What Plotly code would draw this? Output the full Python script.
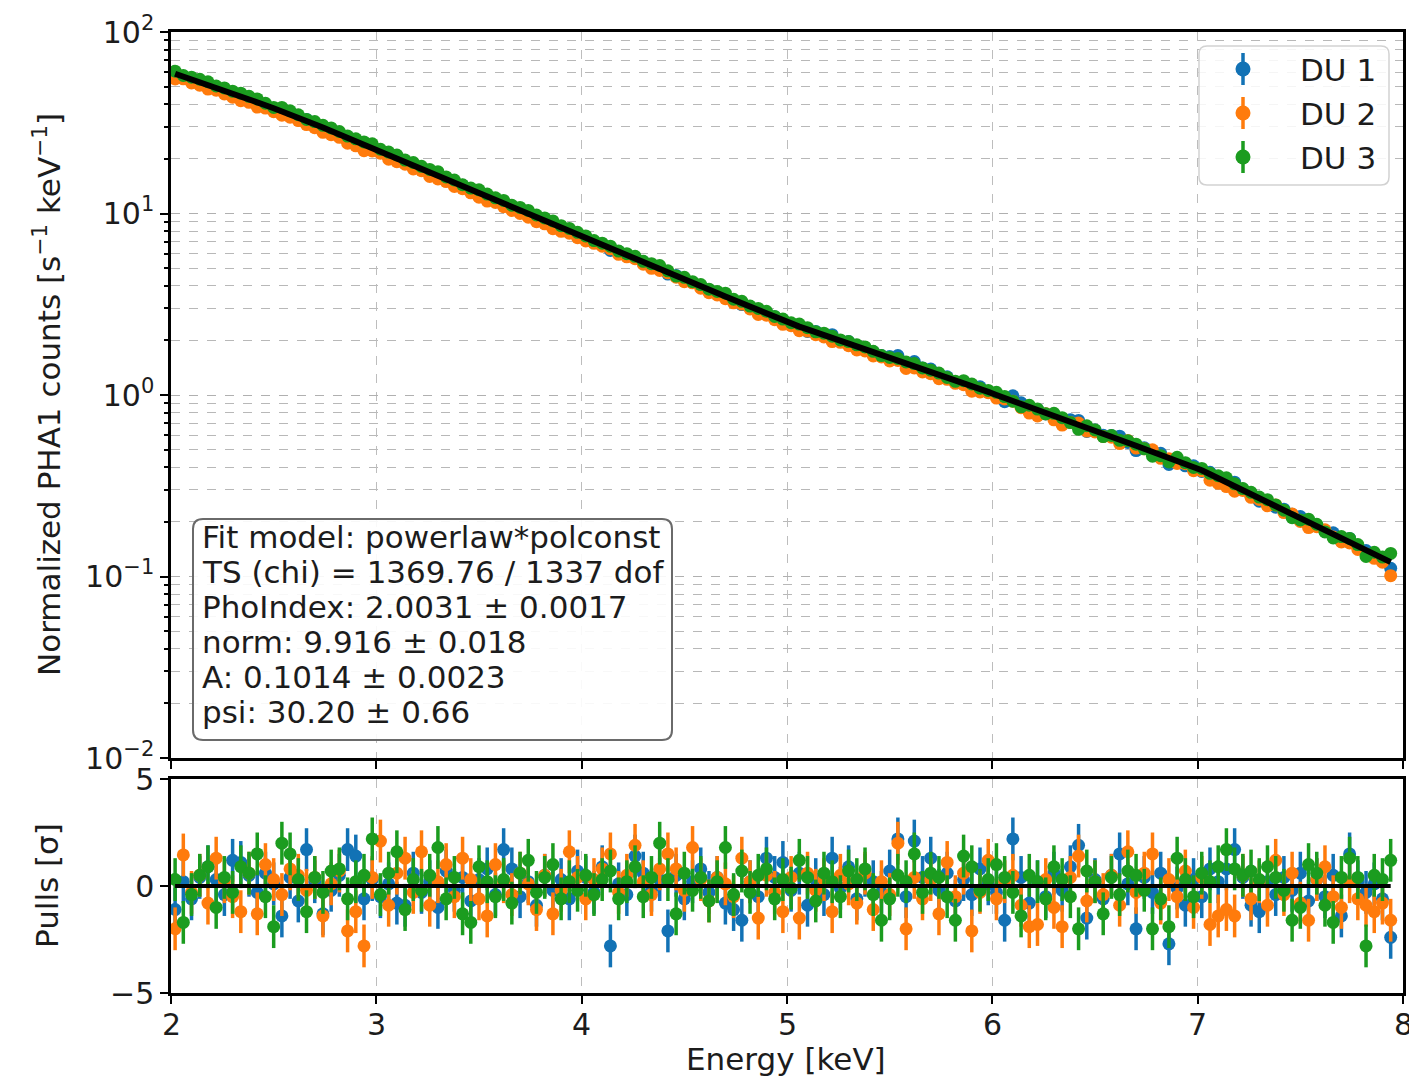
import plotly.graph_objects as go

# ---------------------------------------------------------------- data ----
# bin centres [keV]
energy = [
    2.02, 2.06, 2.10, 2.14, 2.18, 2.22, 2.26, 2.30, 2.34, 2.38,
    2.42, 2.46, 2.50, 2.54, 2.58, 2.62, 2.66, 2.70, 2.74, 2.78,
    2.82, 2.86, 2.90, 2.94, 2.98, 3.02, 3.06, 3.10, 3.14, 3.18,
    3.22, 3.26, 3.30, 3.34, 3.38, 3.42, 3.46, 3.50, 3.54, 3.58,
    3.62, 3.66, 3.70, 3.74, 3.78, 3.82, 3.86, 3.90, 3.94, 3.98,
    4.02, 4.06, 4.10, 4.14, 4.18, 4.22, 4.26, 4.30, 4.34, 4.38,
    4.42, 4.46, 4.50, 4.54, 4.58, 4.62, 4.66, 4.70, 4.74, 4.78,
    4.82, 4.86, 4.90, 4.94, 4.98, 5.02, 5.06, 5.10, 5.14, 5.18,
    5.22, 5.26, 5.30, 5.34, 5.38, 5.42, 5.46, 5.50, 5.54, 5.58,
    5.62, 5.66, 5.70, 5.74, 5.78, 5.82, 5.86, 5.90, 5.94, 5.98,
    6.02, 6.06, 6.10, 6.14, 6.18, 6.22, 6.26, 6.30, 6.34, 6.38,
    6.42, 6.46, 6.50, 6.54, 6.58, 6.62, 6.66, 6.70, 6.74, 6.78,
    6.82, 6.86, 6.90, 6.94, 6.98, 7.02, 7.06, 7.10, 7.14, 7.18,
    7.22, 7.26, 7.30, 7.34, 7.38, 7.42, 7.46, 7.50, 7.54, 7.58,
    7.62, 7.66, 7.70, 7.74, 7.78, 7.82, 7.86, 7.90, 7.94,
]

# folded best-fit model [s^-1 keV^-1]
model = [
    58.9, 56.9, 55.0, 53.0, 51.2, 49.4, 47.6, 46.0, 44.3, 42.7,
    41.0, 39.5, 38.0, 36.6, 35.2, 33.9, 32.4, 31.0, 29.8, 28.5,
    27.3, 26.1, 25.0, 24.0, 23.0, 22.0, 21.0, 20.1, 19.3, 18.5,
    17.7, 16.9, 16.2, 15.5, 14.8, 14.2, 13.6, 13.0, 12.4, 11.9,
    11.4, 10.9, 10.4, 9.98, 9.55, 9.14, 8.75, 8.37, 8.02, 7.67,
    7.35, 7.03, 6.73, 6.44, 6.17, 5.90, 5.65, 5.41, 5.18, 4.95,
    4.74, 4.54, 4.35, 4.16, 3.98, 3.81, 3.65, 3.49, 3.34, 3.20,
    3.06, 2.93, 2.81, 2.69, 2.57, 2.47, 2.38, 2.30, 2.22, 2.14,
    2.07, 1.99, 1.92, 1.85, 1.79, 1.72, 1.66, 1.60, 1.55, 1.49,
    1.44, 1.39, 1.34, 1.29, 1.24, 1.20, 1.16, 1.12, 1.08, 1.04,
    1.00, 0.964, 0.929, 0.894, 0.861, 0.828, 0.798, 0.768, 0.740, 0.712,
    0.685, 0.660, 0.635, 0.611, 0.589, 0.567, 0.546, 0.525, 0.506, 0.487,
    0.469, 0.451, 0.435, 0.418, 0.403, 0.385, 0.366, 0.348, 0.331, 0.315,
    0.299, 0.284, 0.270, 0.257, 0.244, 0.232, 0.221, 0.210, 0.200, 0.190,
    0.180, 0.171, 0.163, 0.155, 0.147, 0.140, 0.133, 0.126, 0.120,
]

du1_counts = [
    58.3, 57.0, 54.7, 53.2, 51.7, 49.5, 47.4, 46.6, 44.8, 42.9,
    40.9, 39.7, 38.0, 36.1, 35.3, 33.7, 33.0, 31.1, 29.4, 28.4,
    27.4, 26.5, 25.4, 23.9, 23.1, 21.9, 21.0, 19.9, 19.1, 18.6,
    17.6, 16.9, 16.0, 15.6, 14.8, 14.3, 13.5, 13.0, 12.5, 11.9,
    11.6, 11.0, 10.3, 10.0, 9.46, 9.19, 8.73, 8.40, 7.97, 7.72,
    7.38, 7.01, 6.79, 6.26, 6.18, 5.88, 5.73, 5.44, 5.17, 4.96,
    4.64, 4.56, 4.32, 4.17, 4.01, 3.80, 3.66, 3.46, 3.30, 3.15,
    3.07, 2.92, 2.85, 2.70, 2.60, 2.46, 2.42, 2.24, 2.24, 2.11,
    2.15, 1.98, 1.97, 1.82, 1.82, 1.73, 1.65, 1.63, 1.65, 1.47,
    1.53, 1.41, 1.39, 1.28, 1.26, 1.17, 1.17, 1.11, 1.11, 1.04,
    0.991, 0.918, 0.990, 0.905, 0.840, 0.833, 0.786, 0.782, 0.736, 0.731,
    0.724, 0.630, 0.641, 0.600, 0.598, 0.593, 0.548, 0.494, 0.512, 0.483,
    0.477, 0.414, 0.434, 0.407, 0.407, 0.379, 0.375, 0.350, 0.339, 0.331,
    0.303, 0.276, 0.260, 0.259, 0.241, 0.235, 0.220, 0.214, 0.196, 0.192,
    0.177, 0.174, 0.156, 0.162, 0.148, 0.139, 0.133, 0.124, 0.111,
]

du2_counts = [
    55.1, 55.2, 52.4, 50.9, 48.5, 47.8, 45.6, 43.7, 41.8, 41.0,
    38.6, 38.1, 36.4, 34.8, 33.9, 32.5, 30.9, 29.7, 28.0, 27.2,
    26.3, 24.4, 23.6, 22.2, 22.1, 21.5, 19.9, 19.3, 18.7, 17.6,
    17.2, 16.0, 15.5, 15.0, 14.1, 13.7, 13.0, 12.3, 11.7, 11.5,
    10.9, 10.4, 10.0, 9.54, 9.02, 8.77, 8.24, 7.98, 7.79, 7.36,
    7.06, 6.85, 6.61, 6.39, 5.96, 5.77, 5.64, 5.26, 4.99, 4.86,
    4.71, 4.46, 4.21, 4.15, 3.88, 3.66, 3.56, 3.39, 3.22, 3.17,
    2.98, 2.78, 2.75, 2.60, 2.45, 2.41, 2.26, 2.25, 2.15, 2.09,
    1.97, 1.95, 1.87, 1.77, 1.75, 1.64, 1.62, 1.54, 1.55, 1.40,
    1.41, 1.34, 1.31, 1.23, 1.22, 1.16, 1.14, 1.05, 1.04, 1.03,
    0.962, 0.951, 0.924, 0.852, 0.795, 0.767, 0.789, 0.730, 0.683, 0.706,
    0.700, 0.633, 0.626, 0.591, 0.586, 0.540, 0.561, 0.510, 0.505, 0.499,
    0.448, 0.446, 0.420, 0.418, 0.383, 0.382, 0.339, 0.326, 0.313, 0.295,
    0.298, 0.273, 0.266, 0.245, 0.248, 0.225, 0.221, 0.201, 0.186, 0.188,
    0.181, 0.165, 0.155, 0.153, 0.141, 0.133, 0.126, 0.120, 0.101,
]

du3_counts = [
    60.8, 57.6, 56.4, 54.9, 53.2, 50.4, 49.2, 47.2, 46.0, 44.2,
    42.8, 40.5, 38.4, 38.4, 36.8, 35.0, 33.0, 32.1, 30.6, 29.6,
    28.3, 26.7, 25.8, 24.8, 24.2, 22.6, 21.8, 21.0, 19.7, 19.1,
    18.2, 17.5, 17.0, 15.9, 15.3, 14.4, 13.8, 13.5, 12.8, 12.2,
    11.8, 11.1, 10.8, 10.4, 9.81, 9.45, 9.10, 8.57, 8.28, 7.88,
    7.52, 7.09, 6.86, 6.61, 6.21, 6.01, 5.81, 5.45, 5.29, 5.17,
    4.83, 4.52, 4.45, 4.21, 4.06, 3.83, 3.72, 3.64, 3.37, 3.28,
    3.09, 3.00, 2.89, 2.71, 2.62, 2.50, 2.46, 2.35, 2.23, 2.19,
    2.11, 2.01, 1.97, 1.89, 1.84, 1.74, 1.65, 1.61, 1.59, 1.52,
    1.49, 1.41, 1.37, 1.32, 1.25, 1.19, 1.20, 1.15, 1.09, 1.06,
    1.035, 0.980, 0.925, 0.861, 0.878, 0.837, 0.788, 0.793, 0.750, 0.705,
    0.647, 0.677, 0.642, 0.590, 0.599, 0.563, 0.560, 0.536, 0.505, 0.460,
    0.463, 0.428, 0.454, 0.424, 0.399, 0.394, 0.370, 0.359, 0.350, 0.324,
    0.305, 0.291, 0.274, 0.265, 0.248, 0.232, 0.211, 0.205, 0.207, 0.194,
    0.176, 0.163, 0.166, 0.162, 0.150, 0.129, 0.136, 0.128, 0.134,
]

# residuals (data - model) / sigma
du1_pulls = [
    -1.1, 0.2, -0.6, 0.4, 0.9, 0.3, -0.4, 1.2, 1.1, 0.5,
    -0.3, 0.6, 0.1, -1.4, 0.4, -0.7, 1.7, 0.2, -1.3, -0.2,
    0.5, 1.7, 1.4, -0.6, 0.3, -0.5, 0.1, -0.8, -0.9, 0.6,
    -0.3, 0.2, -1.0, 0.7, -0.2, 0.4, -0.7, 0.3, 0.8, -0.4,
    1.7, 0.8, -0.5, 0.2, -0.9, 0.5, -0.2, 0.3, -0.6, 0.7,
    0.4, -0.3, 0.9, -2.8, 0.1, -0.4, 1.4, 0.6, -0.2, 0.3,
    -2.1, 0.5, -0.6, 0.2, 0.8, -0.3, 0.4, -0.8, -1.1, -1.6,
    0.2, -0.5, 1.3, 0.4, 1.1, -0.2, 0.6, -0.9, 0.3, -0.4,
    1.3, -0.1, 0.9, -0.6, 0.5, 0.2, -0.3, 0.7, 2.2, -0.5,
    2.1, 0.4, 1.3, -0.2, 0.6, -0.7, 0.3, -0.4, 0.8, 0.1,
    -0.3, -1.6, 2.2, 0.4, -0.8, 0.2, -0.5, 0.6, -0.2, 0.9,
    1.9, -1.5, 0.3, -0.6, 0.5, 1.5, 0.1, -2.0, 0.4, -0.3,
    0.6, -2.7, -0.1, -0.9, 0.3, -0.5, 0.8, 0.2, 0.8, 1.7,
    0.4, -0.9, -1.2, 0.2, -0.4, 0.4, -0.2, 0.6, -0.7, 0.3,
    -0.5, 0.5, -1.4, 1.5, 0.2, -0.3, 0.1, -0.6, -2.4,
]

du2_pulls = [
    -2.0, 1.45, -0.3, 0.5, -0.8, 1.3, 0.2, -0.5, -1.2, 0.6,
    -1.3, 1.0, 0.3, -0.4, 0.8, 0.5, -0.2, 0.4, -1.4, 0.1,
    0.7, -2.1, -1.2, -2.8, 0.4, 2.1, -0.9, 0.6, 1.3, -0.3,
    1.6, -0.9, 0.2, 1.0, -0.5, 1.3, 0.3, -0.6, -1.4, 1.0,
    0.2, -0.4, 0.6, 0.1, -1.1, 0.5, -1.3, -0.2, 1.6, 0.4,
    -0.6, 0.3, 0.8, 1.5, -0.3, 0.5, 1.9, 0.2, -0.4, 0.8,
    1.5, 0.8, -0.2, 1.8, 0.3, -0.7, 0.4, 0.1, -0.5, 1.3,
    0.2, -1.5, 0.5, -0.3, -1.2, 0.4, -1.5, 0.6, -0.2, 0.3,
    -1.2, 0.5, 0.1, -0.8, 0.6, -1.1, 0.2, -0.4, 2.0, -2.0,
    0.4, -0.6, 0.3, -1.3, 1.1, -0.5, 0.6, -2.1, -0.3, 1.2,
    -0.6, 0.2, 0.5, -0.9, -1.9, -1.8, 0.3, -1.0, -1.9, 0.4,
    1.4, -0.7, 0.2, -0.4, 0.5, -0.9, 1.6, -0.3, 0.6, 1.5,
    -0.8, 0.3, -0.5, 0.7, -1.0, 0.4, -1.8, -1.4, -1.1, -1.4,
    0.5, -0.6, 0.2, -0.9, 1.2, -0.4, 0.6, -0.8, -1.6, 0.3,
    0.9, -0.5, -1.0, 0.2, -0.6, -0.9, -1.2, -0.8, -1.6,
]

du3_pulls = [
    0.3, -1.7, -0.4, 0.5, 0.9, -1.0, 0.4, -0.3, 0.9, 0.6,
    1.5, -0.5, -1.9, 2.0, 1.5, 0.3, -1.2, 0.4, -0.3, 0.7,
    0.8, -0.6, 0.2, 0.5, 2.2, -0.4, 0.6, 1.6, -1.1, 0.3,
    -0.2, 0.5, 1.8, -0.6, 0.4, -1.3, -1.7, 0.9, 0.2, -0.5,
    0.3, -0.8, 0.6, 1.2, -0.3, 0.4, 1.0, -0.6, 0.2, -0.2,
    0.5, -0.4, 0.3, 0.7, -0.6, 0.2, 0.9, -0.5, 0.4, 2.0,
    0.3, -1.3, 0.6, -0.2, 0.4, -0.7, 0.2, 1.8, -0.4, 0.7,
    -0.3, 0.5, 0.8, -0.6, 0.3, -0.1, 1.2, 0.4, -0.7, 0.6,
    0.2, -0.5, 0.7, 0.3, 0.8, -0.4, -1.6, -0.6, 0.5, 0.2,
    1.5, -0.3, 0.6, 0.4, -0.5, -1.6, 1.4, 0.9, -0.2, 0.3,
    1.0, 0.4, -0.3, -1.4, 0.5, 0.2, -0.6, 0.9, 0.3, -0.5,
    -2.0, 0.7, 0.2, -1.3, 0.4, -0.4, 0.7, 0.5, -0.2, -2.0,
    -0.6, -1.9, 1.3, 0.3, -0.5, 0.6, 0.2, 0.9, 1.7, 0.8,
    0.5, 0.7, 0.3, 0.9, 0.4, -0.2, -1.6, -1.0, 1.0, 0.6,
    -0.9, -1.7, 0.4, 1.3, 0.4, -2.8, 0.5, 0.3, 1.2,
]

du_names = ["DU 1", "DU 2", "DU 3"]
du_colors = ["#1272b5", "#ff7b0c", "#1b9c1f"]

fit_lines = [
    "Fit model: powerlaw*polconst",
    "TS (chi) = 1369.76 / 1337 dof",
    "PhoIndex: 2.0031 ± 0.0017",
    "norm: 9.916 ± 0.018",
    "A: 0.1014 ± 0.0023",
    "psi: 30.20 ± 0.66",
]

x_ticks = [2, 3, 4, 5, 6, 7, 8]
y_major = [0.01, 0.1, 1, 10, 100]
y_major_text = ["10<sup>−2</sup>", "10<sup>−1</sup>", "10<sup>0</sup>",
                "10<sup>1</sup>", "10<sup>2</sup>"]
y_minor = [m * d for d in (0.01, 0.1, 1, 10) for m in range(2, 10)]
pull_ticks = [-5, 0, 5]
pull_text = ["−5", "0", "5"]

# --------------------------------------------------------------- style ----
FONT = "DejaVu Sans"
TXT = "#1c1c1c"
TICK_SIZE = 30
TEXT_SIZE = 31
W, H = 1409, 1082
L, R, T, B = 171, 1403, 32, 993          # plot-area box in pixels
PW, PH = R - L, B - T


def fx(px):
    return (px - L) / PW


def fy(py):
    return 1 - (py - T) / PH


def rounded_box(x0, y0, x1, y1, r):
    rx, ry = r / PW, r / PH
    a, b, c, d = fx(x0), fy(y0), fx(x1), fy(y1)
    return (f"M {a + rx},{b} L {c - rx},{b} Q {c},{b} {c},{b - ry} "
            f"L {c},{d + ry} Q {c},{d} {c - rx},{d} L {a + rx},{d} "
            f"Q {a},{d} {a},{d + ry} L {a},{b - ry} Q {a},{b} {a + rx},{b} Z")


fig = go.Figure()

counts = [du1_counts, du2_counts, du3_counts]
pulls = [du1_pulls, du2_pulls, du3_pulls]

for name, col, cts in zip(du_names, du_colors, counts):
    fig.add_trace(go.Scatter(
        x=energy, y=cts, mode="markers", name=name,
        marker=dict(color=col, size=13, line=dict(width=0)),
        xaxis="x", yaxis="y", showlegend=False))
fig.add_trace(go.Scatter(
    x=energy, y=model, mode="lines", line=dict(color="black", width=6),
    xaxis="x", yaxis="y", showlegend=False))

for name, col, pl in zip(du_names, du_colors, pulls):
    fig.add_trace(go.Scatter(
        x=energy, y=pl, mode="markers", name=name,
        marker=dict(color=col, size=13, line=dict(width=0)),
        error_y=dict(type="constant", value=1, thickness=3.5, width=0,
                     color=col),
        xaxis="x2", yaxis="y2", showlegend=False))
fig.add_trace(go.Scatter(
    x=[energy[0], energy[-1]], y=[0, 0], mode="lines",
    line=dict(color="black", width=4),
    xaxis="x2", yaxis="y2", showlegend=False))

axis_common = dict(
    showline=True, mirror=True, linecolor="black", linewidth=2.5,
    ticks="outside", ticklen=8, tickwidth=2, tickcolor="black",
    tickfont=dict(family=FONT, size=TICK_SIZE, color=TXT),
    zeroline=False, automargin=False,
)
xgrid = dict(showgrid=True, gridcolor="#bdbdbd", griddash="dash", gridwidth=1)

top_frac = 1 - (758 - T) / PH
bot_frac = 1 - (779 - T) / PH

fig.update_layout(
    width=W, height=H,
    margin=dict(l=L, r=W - R, t=T, b=H - B),
    paper_bgcolor="white", plot_bgcolor="white",
    font=dict(family=FONT, color=TXT),
    xaxis=dict(domain=[0, 1], anchor="y", range=[2, 8], tickvals=x_ticks,
               showticklabels=False, **xgrid, **axis_common),
    yaxis=dict(domain=[top_frac, 1], anchor="x", type="log", range=[-2, 2],
               tickvals=y_major, ticktext=y_major_text,
               showgrid=True, gridcolor="#b0b0b0", griddash="dash",
               gridwidth=1.3,
               minor=dict(tickvals=y_minor, ticks="outside", ticklen=4,
                          tickwidth=1.5, tickcolor="black", showgrid=True,
                          gridcolor="#b8b8b8", griddash="dash",
                          gridwidth=1.3),
               **axis_common),
    xaxis2=dict(domain=[0, 1], anchor="y2", range=[2, 8], tickvals=x_ticks,
                showticklabels=False, **xgrid, **axis_common),
    yaxis2=dict(domain=[0, bot_frac], anchor="x2", range=[-5, 5],
                tickvals=pull_ticks, ticktext=pull_text, showgrid=False,
                **axis_common),
)

shapes = []
annotations = []

# energy tick labels under the pulls panel
for v in x_ticks:
    annotations.append(dict(
        text=str(v), xref="x2", yref="paper", x=v, y=fy(1024),
        showarrow=False, xanchor="center", yanchor="middle",
        font=dict(family=FONT, size=TICK_SIZE, color=TXT)))

# axis titles
annotations.append(dict(
    text="Normalized PHA1 counts [s<sup>−1</sup> keV<sup>−1</sup>]",
    xref="paper", yref="paper", x=fx(47), y=fy(395), textangle=-90,
    showarrow=False, xanchor="center", yanchor="middle",
    font=dict(family=FONT, size=TEXT_SIZE, color=TXT)))
annotations.append(dict(
    text="Pulls [σ]", xref="paper", yref="paper", x=fx(47), y=fy(886),
    textangle=-90, showarrow=False, xanchor="center", yanchor="middle",
    font=dict(family=FONT, size=TEXT_SIZE, color=TXT)))
annotations.append(dict(
    text="Energy [keV]", xref="paper", yref="paper", x=fx(786), y=fy(1059),
    showarrow=False, xanchor="center", yanchor="middle",
    font=dict(family=FONT, size=TEXT_SIZE, color=TXT)))

# fit summary box
shapes.append(dict(type="path", path=rounded_box(193, 519, 672, 740, 10),
                   xref="paper", yref="paper",
                   line=dict(color="#6a6a6a", width=2),
                   fillcolor="rgba(255,255,255,0.9)", layer="above"))
for k, line in enumerate(fit_lines):
    annotations.append(dict(
        text=line, xref="paper", yref="paper", x=fx(200), y=fy(537 + 35 * k),
        showarrow=False, xanchor="left", yanchor="middle",
        font=dict(family=FONT, size=TEXT_SIZE, color=TXT)))

# legend
shapes.append(dict(type="path", path=rounded_box(1199, 46, 1389, 185, 8),
                   xref="paper", yref="paper",
                   line=dict(color="#d2d2d2", width=1.5),
                   fillcolor="rgba(255,255,255,0.85)", layer="above"))
for k, (name, col) in enumerate(zip(du_names, du_colors)):
    cy = 69 + 44 * k
    shapes.append(dict(type="line", xref="paper", yref="paper",
                       x0=fx(1243), x1=fx(1243), y0=fy(cy - 16), y1=fy(cy + 16),
                       line=dict(color=col, width=3.5), layer="above"))
    shapes.append(dict(type="circle", xref="paper", yref="paper",
                       x0=fx(1243 - 7.5), x1=fx(1243 + 7.5),
                       y0=fy(cy - 7.5), y1=fy(cy + 7.5),
                       line=dict(width=0), fillcolor=col, layer="above"))
    annotations.append(dict(
        text=name, xref="paper", yref="paper", x=fx(1298), y=fy(cy + 1),
        showarrow=False, xanchor="left", yanchor="middle",
        font=dict(family=FONT, size=TEXT_SIZE, color=TXT)))

fig.update_layout(shapes=shapes, annotations=annotations)

fig.write_html("out.html")
